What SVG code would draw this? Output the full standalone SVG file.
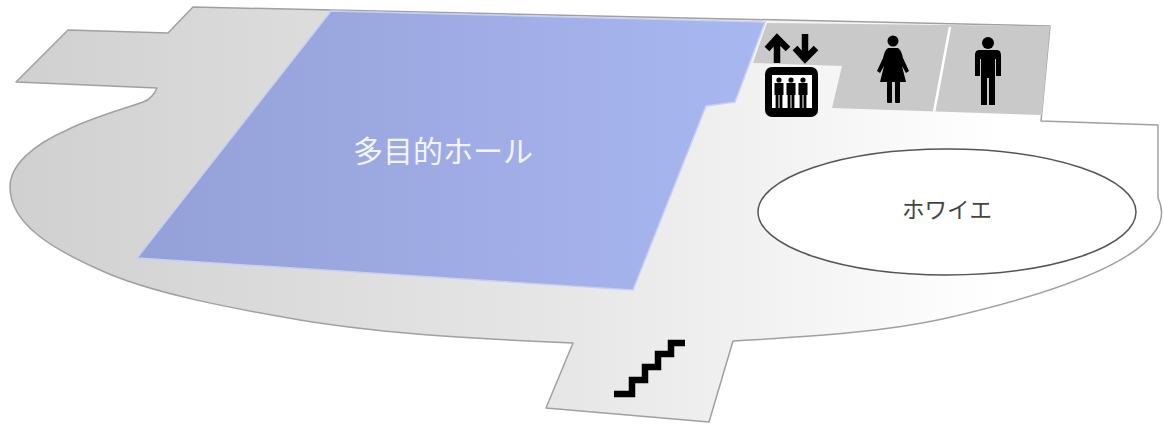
<svg xmlns="http://www.w3.org/2000/svg" width="1163" height="426" viewBox="0 0 1163 426">
<defs>
<linearGradient id="floor" gradientUnits="userSpaceOnUse" x1="10" y1="0" x2="1000" y2="0"><stop offset="0" stop-color="#d0d0d0"/><stop offset="0.55" stop-color="#e6e6e6"/><stop offset="1" stop-color="#ffffff"/></linearGradient>
<linearGradient id="hall" gradientUnits="userSpaceOnUse" x1="137" y1="0" x2="765" y2="0"><stop offset="0" stop-color="#94a0d8"/><stop offset="1" stop-color="#a9b7f0"/></linearGradient>
<g id="person"><circle cx="0" cy="-22" r="2.6"/><path d="M-4.5 -19H4.5V-7H3.4V6H0.5V-7H-0.5V6H-3.4V-7H-4.5Z"/></g>
</defs>
<style>
.lbl{font-family:"Noto Sans CJK JP","Noto Sans",sans-serif}
</style>
<g id="floor-plan">
<path d="M193 7L1050 26L1041 121L1158 125L1158 198C1163 208 1163 220 1156 230C1135 262 1060 292 947 318C880 333 800 337 733 341L709 422L546 408L573 343C500 340 390 335 300 320C230 308 150 293 100 270C55 250 10 225 10 187C10 165 33 145 67 130C90 118 120 110 143 102C150 100 155 93 157 88L16 82L68 30L168 33Z" fill="url(#floor)" stroke="#a0a0a0" stroke-width="1.5" stroke-linejoin="round"/>
</g>
<g id="restrooms">
<path d="M767 23L1050 26L1042 115L832 108L842 66L753 63Z" fill="#c9c9c9"/>
<path d="M950 27L934 112" stroke="#ffffff" stroke-width="2.5" fill="none"/>
</g>
<g id="hall-room">
<path d="M331 11L765 22L735 102L706 106L633 290L137 258Z" fill="url(#hall)" stroke="#c8d0f0" stroke-width="1.5"/>
<text class="lbl" x="443" y="162" font-size="30" fill="#f2f4ff" text-anchor="middle">多目的ホール</text>
</g>
<g id="foyer">
<ellipse cx="947" cy="212" rx="189" ry="63" fill="#ffffff" stroke="#555555" stroke-width="1.5"/>
<text class="lbl" x="947" y="218" font-size="22.5" fill="#444444" text-anchor="middle">ホワイエ</text>
</g>
<g id="elevator">
<rect x="765" y="67" width="53" height="50" rx="7" fill="#000000"/>
<rect x="772" y="75" width="40" height="33" fill="#ffffff"/>
<use href="#person" x="779" y="102" fill="#000"/>
<use href="#person" x="791" y="102" fill="#000"/>
<use href="#person" x="803" y="102" fill="#000"/>
<path d="M777 63V38M767 49L777 38L788 49" fill="none" stroke="#000" stroke-width="6.5"/>
<path d="M805 34V59M795 48L805 59L816 48" fill="none" stroke="#000" stroke-width="6.5"/>
</g>
<g id="women" fill="#000000">
<circle cx="893" cy="41" r="5.5"/>
<path d="M888 48H898C901 50 902 54 903 58L909 71L906 73L902 66L906 82H880L884 66L880 73L877 71L883 58C884 54 885 50 888 48Z"/>
<rect x="887" y="81" width="5" height="22" rx="1"/>
<rect x="895" y="81" width="5" height="22" rx="1"/>
</g>
<g id="men" fill="#000000">
<circle cx="988" cy="43" r="6"/>
<path d="M979 50H997C1000 50 1001 53 1001 55V76H996V59H995V105H989V78H987V105H981V59H980V76H975V55C975 53 976 50 979 50Z"/>
</g>
<g id="stairs">
<path d="M614 394H632V380H645V367H658V354H671V343H685" fill="none" stroke="#000000" stroke-width="6.5"/>
</g>
</svg>
